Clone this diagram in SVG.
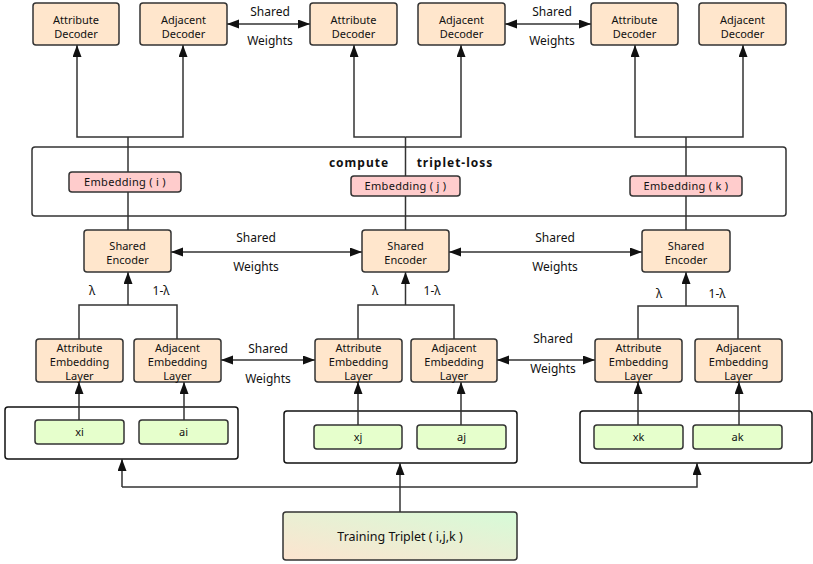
<svg xmlns="http://www.w3.org/2000/svg" width="813" height="564" viewBox="0 0 813 564">
<style>
text{font-family:"Noto Sans","Open Sans","DejaVu Sans",sans-serif;font-size:11px;fill:#111;text-anchor:middle}
.lbl{font-size:12px}
.bold{font-size:12px;font-weight:bold;letter-spacing:1px}
.emb{letter-spacing:0.3px}
.peach{fill:#ffe6cc;stroke:#333;stroke-width:1.5}
.pink{fill:#ffcccc;stroke:#333;stroke-width:1.5}
.green{fill:#e6ffcc;stroke:#333;stroke-width:1.5}
.cont{fill:#fff;stroke:#111;stroke-width:1.5}
.ln{fill:none;stroke:#333;stroke-width:1.5}
.ar{fill:none;stroke:#333;stroke-width:1.5;marker-end:url(#ah)}
.bi{fill:none;stroke:#333;stroke-width:1.5;marker-end:url(#ah);marker-start:url(#ah)}
</style>
<defs>
<marker id="ah" markerUnits="userSpaceOnUse" markerWidth="12" markerHeight="10" refX="12" refY="4.5" orient="auto-start-reverse">
<path d="M0,0 L12,4.5 L0,9 z" fill="#111"/>
</marker>
<linearGradient id="tg" x1="0" y1="1" x2="1" y2="0">
<stop offset="0" stop-color="#fde4cf"/>
<stop offset="1" stop-color="#d6fbd8"/>
</linearGradient>
</defs>
<rect width="813" height="564" fill="#fff"/>

<g id="loss-box">
<rect x="32" y="147" width="754" height="69" rx="3" fill="none" stroke="#333" stroke-width="1.5"/>
<text class="bold" x="359" y="167">compute</text>
<text class="bold" x="455" y="167">triplet-loss</text>
</g>

<g id="containers">
<rect class="cont" x="5" y="407" width="233" height="52" rx="3"/>
<rect class="cont" x="284" y="411" width="233" height="52" rx="3"/>
<rect class="cont" x="580" y="411" width="232" height="52" rx="3"/>
</g>

<g id="connectors">
<path class="ln" d="M128,230 V137"/>
<path class="ar" d="M128,137 H77 V45"/>
<path class="ar" d="M128,137 H183 V45"/>
<path class="ln" d="M405.5,230 V137"/>
<path class="ar" d="M405.5,137 H354 V45"/>
<path class="ar" d="M405.5,137 H461 V45"/>
<path class="ln" d="M686,230 V137"/>
<path class="ar" d="M686,137 H635 V45"/>
<path class="ar" d="M686,137 H743 V45"/>
<path class="bi" d="M227,24 H310"/>
<path class="bi" d="M505,24 H591"/>
<path class="bi" d="M171,252 H362"/>
<path class="bi" d="M449,252 H642"/>
<path class="bi" d="M221,360 H315"/>
<path class="bi" d="M497,360 H595"/>
<path class="ln" d="M79,339 V305 H177 V339"/>
<path class="ar" d="M128,305 V272"/>
<path class="ln" d="M358,339 V305 H454 V339"/>
<path class="ar" d="M405.5,305 V272"/>
<path class="ln" d="M638,339 V306 H738 V339"/>
<path class="ar" d="M686,306 V272"/>
<path class="ar" d="M79,420 V382"/>
<path class="ar" d="M184,420 V382"/>
<path class="ar" d="M358,425 V382"/>
<path class="ar" d="M461,425 V382"/>
<path class="ar" d="M638,425 V382"/>
<path class="ar" d="M739,425 V382"/>
<path class="ar" d="M400,512 V463"/>
<path class="ar" d="M122,487 H400 M122,487 V459"/>
<path class="ar" d="M400,487 H697 V463"/>
</g>

<g id="labels">
<text class="lbl" x="270" y="16">Shared</text>
<text class="lbl" x="270" y="45">Weights</text>
<text class="lbl" x="552" y="16">Shared</text>
<text class="lbl" x="552" y="45">Weights</text>
<text class="lbl" x="256" y="242">Shared</text>
<text class="lbl" x="256" y="271">Weights</text>
<text class="lbl" x="555" y="242">Shared</text>
<text class="lbl" x="555" y="271">Weights</text>
<text class="lbl" x="268" y="353">Shared</text>
<text class="lbl" x="268" y="383">Weights</text>
<text class="lbl" x="553" y="343">Shared</text>
<text class="lbl" x="553" y="373">Weights</text>
<text class="lbl" x="92" y="295">λ</text>
<text class="lbl" x="161" y="295">1-λ</text>
<text class="lbl" x="375" y="295">λ</text>
<text class="lbl" x="432" y="295">1-λ</text>
<text class="lbl" x="659" y="298">λ</text>
<text class="lbl" x="717" y="298">1-λ</text>
</g>

<g id="attr-dec-i"><rect class="peach" x="33" y="3" width="86" height="42" rx="3"/><text x="76" y="24">Attribute</text><text x="76" y="38">Decoder</text></g>
<g id="adj-dec-i"><rect class="peach" x="140" y="3" width="87" height="42" rx="3"/><text x="183.5" y="24">Adjacent</text><text x="183.5" y="38">Decoder</text></g>
<g id="attr-dec-j"><rect class="peach" x="310" y="3" width="87" height="42" rx="3"/><text x="353.5" y="24">Attribute</text><text x="353.5" y="38">Decoder</text></g>
<g id="adj-dec-j"><rect class="peach" x="418" y="3" width="87" height="42" rx="3"/><text x="461.5" y="24">Adjacent</text><text x="461.5" y="38">Decoder</text></g>
<g id="attr-dec-k"><rect class="peach" x="591" y="3" width="87" height="42" rx="3"/><text x="634.5" y="24">Attribute</text><text x="634.5" y="38">Decoder</text></g>
<g id="adj-dec-k"><rect class="peach" x="699" y="3" width="87" height="42" rx="3"/><text x="742.5" y="24">Adjacent</text><text x="742.5" y="38">Decoder</text></g>

<g id="emb-i"><rect class="pink" x="69" y="172" width="112" height="20" rx="3"/><text class="emb" x="125" y="186">Embedding ( i )</text></g>
<g id="emb-j"><rect class="pink" x="351" y="176" width="109" height="20" rx="3"/><text class="emb" x="405.5" y="190">Embedding ( j )</text></g>
<g id="emb-k"><rect class="pink" x="630" y="176" width="112" height="20" rx="3"/><text class="emb" x="686" y="190">Embedding ( k )</text></g>

<g id="enc-i"><rect class="peach" x="84" y="230" width="87" height="42" rx="3"/><text x="127.5" y="250">Shared</text><text x="127.5" y="264">Encoder</text></g>
<g id="enc-j"><rect class="peach" x="362" y="230" width="87" height="42" rx="3"/><text x="405.5" y="250">Shared</text><text x="405.5" y="264">Encoder</text></g>
<g id="enc-k"><rect class="peach" x="642" y="230" width="88" height="42" rx="3"/><text x="686" y="250">Shared</text><text x="686" y="264">Encoder</text></g>

<g id="attr-emb-i"><rect class="peach" x="36" y="339" width="87" height="43" rx="3"/><text x="79.5" y="352">Attribute</text><text x="79.5" y="366">Embedding</text><text x="79.5" y="380">Layer</text></g>
<g id="adj-emb-i"><rect class="peach" x="134" y="339" width="87" height="43" rx="3"/><text x="177.5" y="352">Adjacent</text><text x="177.5" y="366">Embedding</text><text x="177.5" y="380">Layer</text></g>
<g id="attr-emb-j"><rect class="peach" x="315" y="339" width="87" height="43" rx="3"/><text x="358.5" y="352">Attribute</text><text x="358.5" y="366">Embedding</text><text x="358.5" y="380">Layer</text></g>
<g id="adj-emb-j"><rect class="peach" x="411" y="339" width="86" height="43" rx="3"/><text x="454" y="352">Adjacent</text><text x="454" y="366">Embedding</text><text x="454" y="380">Layer</text></g>
<g id="attr-emb-k"><rect class="peach" x="595" y="339" width="87" height="43" rx="3"/><text x="638.5" y="352">Attribute</text><text x="638.5" y="366">Embedding</text><text x="638.5" y="380">Layer</text></g>
<g id="adj-emb-k"><rect class="peach" x="695" y="339" width="87" height="43" rx="3"/><text x="738.5" y="352">Adjacent</text><text x="738.5" y="366">Embedding</text><text x="738.5" y="380">Layer</text></g>

<g id="xi"><rect class="green" x="35" y="420" width="89" height="24" rx="3"/><text x="79.5" y="436">xi</text></g>
<g id="ai"><rect class="green" x="139" y="420" width="89" height="24" rx="3"/><text x="183.5" y="436">ai</text></g>
<g id="xj"><rect class="green" x="314" y="425" width="88" height="24" rx="3"/><text x="358" y="441">xj</text></g>
<g id="aj"><rect class="green" x="417" y="425" width="89" height="24" rx="3"/><text x="461.5" y="441">aj</text></g>
<g id="xk"><rect class="green" x="594" y="425" width="89" height="24" rx="3"/><text x="638.5" y="441">xk</text></g>
<g id="ak"><rect class="green" x="693" y="425" width="89" height="24" rx="3"/><text x="737.5" y="441">ak</text></g>

<g id="training-triplet"><rect x="283" y="512" width="234" height="48" rx="3" fill="url(#tg)" stroke="#333" stroke-width="1.5"/><text x="400" y="541" style="font-size:12.5px">Training Triplet ( i,j,k )</text></g>
</svg>
